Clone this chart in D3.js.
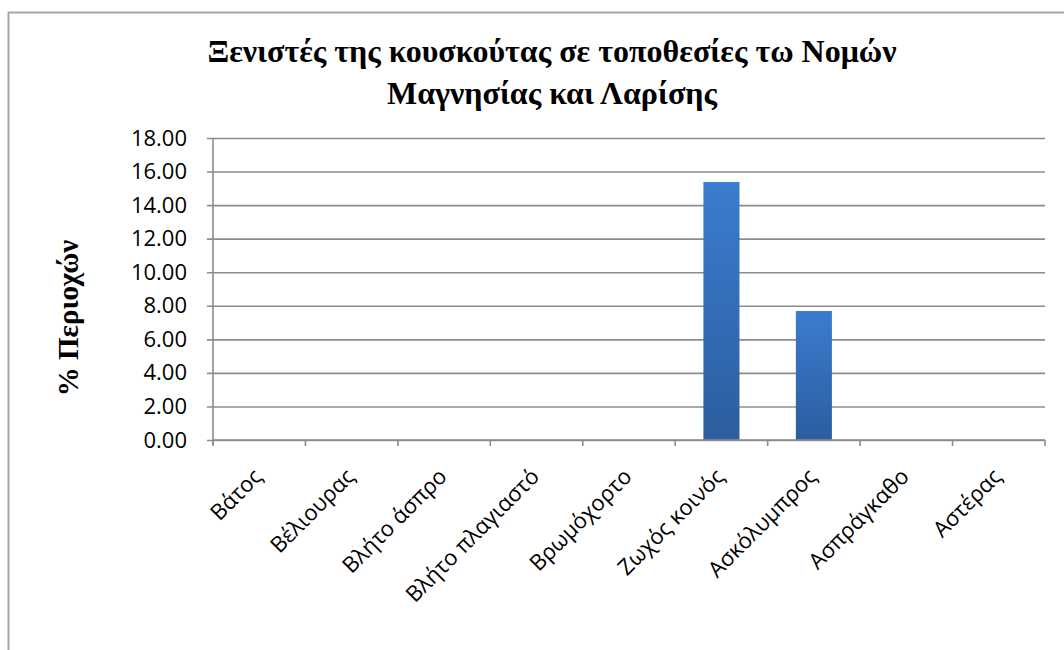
<!DOCTYPE html>
<html>
<head>
<meta charset="utf-8">
<script src="https://cdn.jsdelivr.net/npm/d3@7"></script>
<style>
  html, body { margin: 0; padding: 0; background: #fff; }
  svg { display: block; }
  .serif { font-family: "Liberation Serif", Tinos, "Times New Roman", "DejaVu Serif", serif; }
</style>
</head>
<body>
<div id="chart"></div>
<script>
// chart values
const categories = ["Βάτος", "Βέλιουρας", "Βλήτο άσπρο", "Βλήτο πλαγιαστό", "Βρωμόχορτο",
                    "Ζωχός κοινός", "Ασκόλυμπρος", "Ασπράγκαθο", "Αστέρας"];
const values = [0, 0, 0, 0, 0, 15.38, 7.69, 0, 0];
const yTicks = [0, 2, 4, 6, 8, 10, 12, 14, 16, 18];
const titleLines = ["Ξενιστές της κουσκούτας σε τοποθεσίες τω Νομών", "Μαγνησίας και Λαρίσης"];
const yTitle = "% Περιοχών";

const W = 1064, H = 650;
const plot = { left: 213, right: 1045, top: 138, bottom: 440 };

const svg = d3.select('#chart').append('svg')
    .attr('width', W)
    .attr('height', H);

// gradient for the bars
const grad = svg.append('defs').append('linearGradient')
    .attr('id', 'barGrad')
    .attr('x1', 0).attr('y1', 0).attr('x2', 0).attr('y2', 1);
grad.append('stop').attr('offset', '0%').attr('stop-color', '#3b7ccf');
grad.append('stop').attr('offset', '100%').attr('stop-color', '#2c5d9e');

// outer chart frame (runs off the right / bottom of the picture)
svg.append('rect')
    .attr('x', 8.5).attr('y', 12.5)
    .attr('width', W + 20).attr('height', H + 20)
    .attr('fill', '#fff')
    .attr('stroke', '#a6a6a6')
    .attr('stroke-width', 2);

const xScale = d3.scaleBand()
    .domain(categories)
    .range([plot.left, plot.right])
    .paddingInner(0)
    .paddingOuter(0);

const yScale = d3.scaleLinear()
    .domain([0, 18])
    .range([plot.bottom, plot.top]);

// gridlines + y axis
const yAxis = d3.axisLeft(yScale)
    .tickValues(yTicks)
    .tickSize(-(plot.right - plot.left))
    .tickPadding(26)
    .tickFormat(d3.format('.2f'));

const yg = svg.append('g')
    .attr('transform', `translate(${plot.left},0)`)
    .call(yAxis);
yg.select('.domain').remove();
yg.selectAll('.tick line')
    .attr('x1', -6)
    .attr('stroke', '#8c8c8c')
    .attr('stroke-width', 1.6);
yg.selectAll('.tick text')
    .attr('font-family', '"Open Sans", sans-serif')
    .attr('font-size', 22)
    .attr('fill', '#000');

svg.append('line')
    .attr('x1', plot.left).attr('x2', plot.left)
    .attr('y1', plot.top).attr('y2', plot.bottom + 5)
    .attr('stroke', '#8c8c8c')
    .attr('stroke-width', 1.6);

// bars
const barW = xScale.bandwidth() * 0.39;
svg.append('g').selectAll('rect')
    .data(values)
    .enter()
    .append('rect')
        .attr('x', (d, i) => xScale(categories[i]) + xScale.bandwidth() / 2 - barW / 2)
        .attr('y', d => yScale(d))
        .attr('width', barW)
        .attr('height', d => yScale(0) - yScale(d))
        .attr('fill', 'url(#barGrad)');

// x axis
const xg = svg.append('g')
    .attr('transform', `translate(0,${plot.bottom})`);
xg.append('line')
    .attr('x1', plot.left).attr('x2', plot.right)
    .attr('stroke', '#8c8c8c')
    .attr('stroke-width', 1.6);
const edges = categories.map(c => xScale(c)).concat([plot.right]);
xg.selectAll('.xtick')
    .data(edges)
    .enter()
    .append('line')
        .attr('class', 'xtick')
        .attr('x1', d => d).attr('x2', d => d)
        .attr('y1', 0).attr('y2', 6)
        .attr('stroke', '#8c8c8c')
        .attr('stroke-width', 1.6);

xg.selectAll('.xlabel')
    .data(categories)
    .enter()
    .append('text')
        .attr('class', 'xlabel')
        .attr('transform', d => `translate(${xScale(d) + xScale.bandwidth() / 2 + 4},${38}) rotate(-45)`)
        .attr('text-anchor', 'end')
        .attr('font-family', '"Open Sans", sans-serif')
        .attr('font-size', 22)
        .attr('fill', '#000')
        .text(d => d);

// title
svg.append('g').selectAll('text')
    .data(titleLines)
    .enter()
    .append('text')
        .attr('class', 'serif')
        .attr('x', 552)
        .attr('y', (d, i) => 62 + i * 42)
        .attr('text-anchor', 'middle')
        .attr('font-weight', 'bold')
        .attr('font-size', 32)
        .attr('fill', '#000')
        .text(d => d);

// y axis title
svg.append('text')
    .attr('class', 'serif')
    .attr('transform', `translate(78,${318}) rotate(-90)`)
    .attr('text-anchor', 'middle')
    .attr('font-weight', 'bold')
    .attr('font-size', 29)
    .attr('fill', '#000')
    .text(yTitle);
</script>
</body>
</html>
